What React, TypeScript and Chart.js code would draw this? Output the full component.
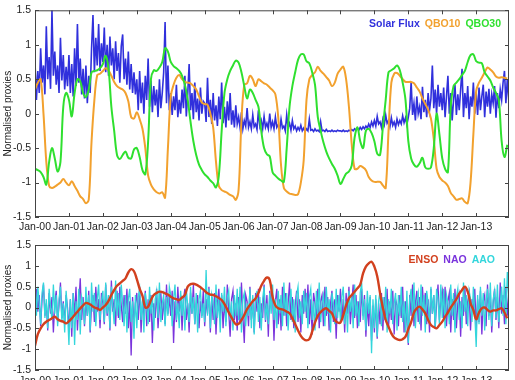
import { useEffect, useRef } from 'react';
import { Chart, registerables } from 'chart.js';

Chart.register(...registerables);

// Axis ticks: months since Jan 2000
const tickMonths = [0, 12, 24, 36, 48, 60, 72, 84, 96, 108, 120, 132, 144, 156];
const tickLabels = ['Jan-00', 'Jan-01', 'Jan-02', 'Jan-03', 'Jan-04', 'Jan-05', 'Jan-06', 'Jan-07', 'Jan-08', 'Jan-09', 'Jan-10', 'Jan-11', 'Jan-12', 'Jan-13'];
const yTicks = [-1.5, -1, -0.5, 0, 0.5, 1, 1.5];

// Solar flux, two samples per month (2000-2013)
const solarFlux = [
  0.75, 0.2, 0.62, 0.3, 0.95, 0.45, 0.7, 0.28, 1.27, 0.5, 0.82, 0.36, 1.5, 0.55, 0.9, 0.42, 0.7, 0.3, 1.1, 0.48, 0.85, 0.35, 0.68, 0.4,
  0.85, 0.3, 0.72, 0.25, 0.95, 0.4, 1.3, 0.45, 0.8, 0.28, 0.65, 0.22, 0.7, 0.15, 0.55, 0.3, 0.95, 1.43, 0.6, 1.1, 0.7, 1.3, 0.62, 1.02,
  0.75, 1.25, 0.6, 1.0, 0.55, 1.12, 0.7, 0.95, 0.5, 1.05, 0.62, 0.88, 0.45, 0.98, 1.15, 0.5, 0.8, 0.42, 0.9, 0.35, 0.72, 0.3, 0.6, 0.28,
  0.5, 0.05, 0.62, 0.15, 0.45, 0.0, 0.55, 0.2, 0.8, 0.1, 0.48, 0.02, 0.4, 0.12, 0.35, -0.05, 0.5, 0.08, 0.3, 0.6, 1.33, 0.15, 0.7, 0.05,
  0.3, -0.02, 0.25, 0.05, 0.42, -0.05, 0.2, 0.0, 0.35, 0.08, 0.55, -0.04, 0.28, 0.72, 0.05, 0.3, -0.08, 0.45, 0.02, 0.22, -0.1, 0.38, 0.0, 0.18,
  0.15, -0.12, 0.52, -0.05, 0.2, -0.15, 0.3, -0.1, 0.12, -0.18, 0.25, -0.08, 0.45, -0.14, 0.1, -0.2, 0.18, -0.1, 0.3, -0.16, 0.05, -0.2, 0.12, -0.15,
  -0.05, -0.2, 0.02, -0.22, -0.1, -0.18, 0.08, -0.2, -0.12, -0.22, -0.02, -0.19, -0.15, -0.23, 0.05, -0.18, -0.1, -0.22, -0.04, -0.2, -0.14, -0.22, 0.0, -0.2,
  -0.12, -0.22, -0.05, -0.2, -0.16, -0.24, -0.08, -0.21, -0.18, -0.25, -0.02, -0.2, -0.14, -0.24, -0.1, -0.22, -0.18, -0.25, -0.2, -0.24, -0.17, -0.25, -0.21, -0.26,
  -0.22, -0.25, -0.08, -0.24, -0.23, -0.26, -0.22, -0.25, -0.24, -0.26, -0.12, -0.25, -0.24, -0.26, -0.23, -0.26, -0.25, -0.26, -0.24, -0.26, -0.25, -0.26, -0.24, -0.25,
  -0.25, -0.26, -0.24, -0.26, -0.25, -0.26, -0.24, -0.25, -0.23, -0.25, -0.22, -0.24, -0.21, -0.24, -0.2, -0.23, -0.19, -0.22, -0.18, -0.21, -0.15, -0.2, -0.12, -0.18,
  -0.1, -0.18, -0.04, -0.15, -0.12, -0.2, -0.08, -0.16, -0.02, -0.14, -0.1, -0.19, -0.06, -0.17, -0.12, -0.2, -0.08, -0.16, -0.1, -0.15, -0.03, -0.13, -0.06, -0.16,
  -0.05, 0.08, 0.46, -0.02, 0.15, -0.1, 0.25, 0.0, 0.1, -0.08, 0.39, 0.02, 0.2, -0.05, 0.3, 0.05, 0.22, 0.7, 0.08, 0.35, 0.0, 0.42, 0.1, 0.3,
  0.05, 0.38, -0.05, 0.25, 0.55, 0.0, 0.3, -0.1, 0.2, 0.42, -0.02, 0.28, 0.05, 0.35, 0.65, -0.05, 0.3, 0.08, 0.4, -0.08, 0.25, 0.1, 0.45, 0.0,
  0.3, -0.02, 0.38, 0.05, 0.25, 0.42, -0.05, 0.32, 0.1, 0.36, 0.0, 0.28, 0.15, 0.4, -0.06, 0.3, 0.08, 0.35, 0.2, 0.45, 0.62, 0.15, 0.5, 0.2,
];

// QBO at 10 hPa, monthly
const qbo10 = [
  0.35, 0.45, 0.5, 0.0, -0.7, -1.05, -1.08, -1.06, -1.03, -1.0, -0.95, -1.0,
  -1.04, -0.98, -1.05, -1.12, -1.2, -1.24, -1.3, -1.25, -0.4, 0.2, 0.56, 0.58,
  0.62, 0.66, 0.63, 0.55, 0.46, 0.4, 0.37, 0.35, 0.3, 0.18, -0.05, -0.07,
  0.02, -0.08, -0.22, -0.5, -0.9, -1.03, -1.1, -1.14, -1.16, -1.14, -1.22, -0.5,
  0.25, 0.42, 0.52, 0.56, 0.5, 0.46, 0.45, 0.44, 0.4, 0.35, 0.25, 0.16,
  0.14, 0.13, 0.0, -0.2, -0.7, -1.05, -1.11, -1.13, -1.15, -1.18, -1.2, -1.25,
  -1.1, -0.1, 0.42, 0.44, 0.55, 0.5, 0.4, 0.5, 0.47, 0.44, 0.42, 0.38,
  0.34, 0.28, -0.05, -0.75, -1.08, -1.13, -1.16, -1.17, -1.18, -1.17, -1.0, -0.68,
  0.2, 0.5, 0.56, 0.6, 0.68, 0.62, 0.58, 0.53, 0.48, 0.4, 0.45, 0.58,
  0.64, 0.68, 0.5, 0.1, -0.45, -0.8, -0.8, -0.76, -0.78, -0.82, -0.92, -0.97,
  -0.99, -0.99, -0.99, -1.04, -1.08, -0.25, 0.45, 0.58, 0.59, 0.55, 0.5, 0.46,
  0.46, 0.46, 0.44, 0.38, 0.32, 0.22, 0.14, 0.06, -0.07, -0.37, -0.8, -0.92,
  -0.97, -1.0, -1.05, -1.15, -1.2, -1.25, -1.24, -1.23, -1.28, -1.3, -1.0, -0.3,
  0.33, 0.45, 0.52, 0.6, 0.67, 0.64, 0.6, 0.54, 0.52, 0.53, 0.52, 0.51,
];

// QBO at 30 hPa, monthly
const qbo30 = [
  -0.8, -0.82, -0.85, -0.92, -1.03, -0.7, -0.5, -0.65, -0.84, -0.7, 0.1, 0.3,
  0.2, -0.04, 0.3, 0.5, 0.47, 0.3, 0.24, 0.35, 0.6, 0.62, 0.63, 0.66,
  0.72, 0.84, 0.65, 0.1, -0.25, -0.6, -0.66, -0.6, -0.55, -0.64, -0.65, -0.52,
  -0.5, -0.63, -0.82, -0.88, -0.4, 0.5, 0.63, 0.62, 0.67, 0.75, 0.95, 0.9,
  0.75, 0.69, 0.66, 0.62, 0.55, 0.42, 0.2, -0.12, -0.4, -0.6, -0.74, -0.82,
  -0.88, -0.92, -0.97, -1.01, -1.07, -0.9, -0.25, 0.3, 0.5, 0.62, 0.7, 0.77,
  0.74, 0.6, 0.4, 0.22, 0.35, 0.3, 0.2, 0.1, -0.25, -0.5, -0.59, -0.62,
  -0.85, -0.9, -0.94, -0.97, -0.99, -0.5, 0.1, 0.4, 0.6, 0.78, 0.86, 0.86,
  0.76, 0.73, 0.6, 0.42, -0.05, -0.25, -0.42, -0.55, -0.65, -0.73, -0.8, -0.9,
  -1.02, -0.95, -0.87, -0.84, -0.75, -0.35, -0.2, -0.4, -0.5, -0.25, -0.22, -0.28,
  -0.4, -0.58, -0.6, -0.2, 0.2, 0.6, 0.63, 0.66, 0.7, 0.63, 0.45, 0.2,
  -0.4, -0.65, -0.74, -0.77, -0.72, -0.64, -0.78, -0.8, -0.78, -0.5, 0.0, -0.3,
  -0.65, -0.8, -0.85, 0.1, 0.4, 0.45, 0.5, 0.56, 0.62, 0.75, 0.85, 0.86,
  0.76, 0.74, 0.73, 0.6, 0.54, 0.48, 0.38, 0.3, 0.2, -0.4, -0.63, -0.45,
];

// ENSO index, monthly
const enso = [
  -0.92, -0.64, -0.5, -0.4, -0.34, -0.3, -0.26, -0.22, -0.28, -0.32, -0.34, -0.38,
  -0.33, -0.26, -0.18, -0.1, -0.02, 0.05, 0.11, 0.09, 0.05, 0.0, -0.02, -0.06,
  0.0, 0.06, 0.16, 0.3, 0.42, 0.52, 0.58, 0.64, 0.7, 0.84, 0.92, 0.87,
  0.68, 0.45, 0.28, 0.0, 0.02, 0.18, 0.3, 0.35, 0.38, 0.37, 0.34, 0.31,
  0.26, 0.22, 0.2, 0.18, 0.24, 0.3, 0.5, 0.56, 0.57, 0.55, 0.51, 0.46,
  0.4, 0.34, 0.31, 0.3, 0.27, 0.23, 0.18, 0.08, -0.05, -0.18, -0.3, -0.4,
  -0.39, -0.3, -0.18, -0.04, 0.06, 0.15, 0.22, 0.35, 0.52, 0.64, 0.72, 0.66,
  0.25, 0.05, -0.02, -0.04, -0.06, -0.1, -0.14, -0.26, -0.4, -0.55, -0.68, -0.76,
  -0.79, -0.76, -0.58, -0.36, -0.2, -0.11, -0.05, -0.02, -0.08, -0.14, -0.3, -0.36,
  -0.36, -0.18, 0.05, 0.22, 0.3, 0.38, 0.46, 0.55, 0.82, 0.98, 1.06, 1.1,
  0.98, 0.75, 0.35, 0.0, -0.3, -0.46, -0.62, -0.72, -0.76, -0.78, -0.76, -0.7,
  -0.52, -0.35, -0.12, -0.02, 0.02, -0.05, -0.14, -0.3, -0.42, -0.47, -0.5, -0.42,
  -0.34, -0.22, -0.12, 0.0, 0.1, 0.2, 0.33, 0.42, 0.5, 0.38, 0.1, -0.06,
  -0.28, -0.12, -0.02, 0.0, -0.06, -0.1, -0.07, -0.07, -0.04, -0.02, -0.12, -0.26,
];

// NAO index, two samples per month
const nao = [
  -0.3, 0.45, -0.1, 0.3, -0.45, 0.2, 0.55, -0.2, 0.1, -0.55, 0.35, -0.15, 0.25, -0.6, 0.1, 0.4, -0.35, 0.05, 0.6, -0.25, 0.15, -0.4, 0.3, 0.0,
  -0.5, 0.2, -0.7, 0.35, -0.2, 0.5, -0.55, 0.1, 0.7, -0.3, 0.25, -0.45, 0.15, -0.2, 0.4, -0.6, 0.05, 0.3, -0.35, 0.5, -0.1, 0.2, -0.5, 0.35,
  0.1, -0.4, 0.55, -0.2, 0.3, -0.55, 0.65, -0.1, 0.2, -0.45, 0.4, -0.25, 0.5, 0.05, -0.35, 0.3, -0.15, 0.45, -0.5, 0.15, -1.15, 0.25, -0.4, 0.1,
  0.35, -0.3, 0.5, -0.6, 0.15, -0.2, 0.4, -0.45, 0.2, -0.35, 0.3, -0.85, 0.1, -0.25, 0.45, -0.5, 0.05, 0.35, -0.3, 0.2, -0.4, 0.55, -0.15, 0.25,
  -0.2, 0.4, -0.85, 0.15, -0.35, 0.5, -0.1, 0.3, -0.55, 0.2, 0.45, -0.3, 0.1, -0.6, 0.35, -0.15, 0.55, -0.4, 0.05, 0.3, -0.5, 0.15, -0.2, 0.4,
  -0.45, 0.2, -0.15, 0.5, -0.6, 0.25, -0.3, 0.35, -0.65, 0.1, 0.45, -0.2, 0.3, -0.5, 0.15, -0.35, 0.55, -0.1, -0.7, 0.2, 0.4, -0.3, 0.1, -0.55,
  0.25, -0.4, 0.6, -0.2, -0.85, 0.3, 0.15, -0.45, 0.5, -0.3, 0.2, -0.6, 0.35, -0.1, 0.45, -0.5, 0.1, -0.25, 0.55, -0.35, 0.3, -0.7, 0.4, 0.05,
  0.3, -0.8, 0.15, 0.45, -0.4, 0.2, -0.55, 0.5, -0.2, 0.35, -0.45, 0.1, 0.6, -0.3, 0.25, -0.5, 0.05, 0.4, -0.35, 0.2, -0.6, 0.3, -0.15, 0.45,
  -0.25, 0.55, -0.4, 0.2, -0.65, 0.35, 0.1, -0.3, 0.45, -0.5, 0.15, 0.3, -0.45, 0.5, -0.2, 0.25, -0.55, 0.1, 0.4, -0.35, 0.2, -0.75, 0.3, -0.1,
  0.45, -0.3, 0.2, -0.6, 0.35, -0.15, 0.5, -0.4, 0.1, 0.55, -0.25, 0.3, -0.5, 0.15, -0.35, 0.45, -0.2, 0.3, -0.7, 0.1, -0.45, 0.25, -0.8, 0.05,
  -0.6, 0.2, -0.75, 0.1, -0.4, 0.35, -0.55, 0.25, -0.2, 0.45, -0.5, 0.15, -0.3, 0.4, -0.65, 0.2, 0.05, -0.45, 0.3, -0.25, 0.5, -0.6, 0.15, -0.35,
  -0.9, 0.3, -0.2, 0.55, -0.45, 0.1, 0.4, -0.35, 0.25, -0.55, 0.5, -0.1, 0.35, -0.4, 0.2, -0.6, 0.45, -0.15, 0.3, -0.5, 0.1, 0.55, -0.3, 0.2,
  0.4, -0.25, 0.5, -0.45, 0.15, 0.35, -0.6, 0.2, -0.3, 0.45, -0.5, 0.1, 0.3, -0.7, 0.25, -0.2, 0.5, -0.4, 0.15, 0.35, -0.55, 0.2, -0.1, 0.45,
  -0.5, 0.2, -0.35, 0.4, -0.65, 0.15, 0.3, -0.45, 0.55, -0.2, 0.35, -0.6, 0.1, 0.45, -0.3, 0.25, -0.5, 0.6, -0.15, 0.3, -0.4, 0.5, -0.2, 0.35,
];

// AAO index, two samples per month
const aao = [
  0.75, -0.2, 0.5, 0.1, -0.4, 0.35, 0.6, -0.25, 0.2, -0.5, 0.45, 0.0, -0.3, 0.55, -0.15, 0.3, -0.45, 0.2, 0.5, -0.35, 0.1, -0.6, 0.4, -0.1,
  -0.9, 0.2, -0.5, 0.35, -0.9, 0.15, -0.3, 0.45, -0.65, 0.25, 0.1, -0.4, 0.5, -0.2, 0.3, -0.55, 0.6, -0.1, 0.35, -0.45, 0.2, 0.55, -0.3, 0.15,
  0.4, -0.35, 0.6, -0.15, 0.3, -0.5, 0.5, 0.05, -0.4, 0.65, -0.2, 0.35, -0.3, 0.55, 0.1, -0.45, 0.3, -0.6, 0.2, 0.45, -0.35, 0.15, -0.75, 0.3,
  -0.5, 0.25, 0.45, -0.3, 0.2, -0.6, 0.35, 0.05, -0.4, 0.5, -0.15, 0.3, -0.55, 0.2, 0.4, -0.25, 0.6, -0.35, 0.1, 0.3, -0.45, 0.25, -0.2, 0.5,
  0.3, -0.45, 0.2, 0.55, -0.3, 0.1, -0.5, 0.4, -0.2, 0.3, -0.55, 0.45, 0.05, -0.35, 0.5, -0.15, 0.25, -0.4, 0.35, -0.6, 0.2, 0.4, -0.25, 0.1,
  -0.35, 0.9, -0.2, 0.45, -0.5, 0.3, 0.1, -0.4, 0.55, -0.25, 0.2, -0.6, 0.35, -0.1, 0.5, -0.45, 0.25, 0.4, -0.3, 0.15, -0.55, 0.3, -0.2, 0.45,
  -0.3, 0.5, -0.6, 0.2, 0.35, -0.45, 0.1, -0.2, 0.45, -0.5, 0.3, -0.65, 0.15, 0.4, -0.35, 0.25, -0.55, 0.2, 0.5, -0.3, 0.1, -0.4, 0.35, -0.15,
  0.55, -0.3, 0.2, -0.5, 0.4, -0.15, 0.3, -0.45, 0.6, -0.2, 0.35, -0.55, 0.1, 0.45, -0.35, 0.2, -0.6, 0.3, 0.5, -0.25, 0.15, -0.4, 0.4, -0.1,
  0.35, -0.5, 0.25, 0.45, -0.3, 0.15, -0.55, 0.4, -0.2, 0.6, -0.35, 0.1, 0.3, -0.45, 0.5, -0.15, 0.2, -0.6, 0.35, 0.1, -0.4, 0.45, -0.25, 0.3,
  -0.35, 0.25, 0.5, -0.4, 0.15, -0.6, 0.4, -0.1, 0.3, -0.5, 0.55, -0.2, 0.15, -0.45, 0.35, 0.6, -0.3, 0.2, -0.55, 0.4, -0.15, 0.3, -1.1, 0.2,
  -0.5, 0.3, -0.7, 0.15, 0.4, -0.45, 0.25, -0.3, 0.5, -0.6, 0.2, -0.15, 0.45, -0.4, 0.1, 0.35, -0.55, 0.3, -0.2, 0.5, -0.35, 0.15, -0.6, 0.4,
  -0.85, 0.2, 0.45, -0.3, 0.6, -0.5, 0.15, 0.35, -0.4, 0.55, -0.2, 0.3, -0.6, 0.4, 0.1, -0.35, 0.5, -0.15, 0.3, -0.5, 0.45, 0.2, -0.4, 0.55,
  -0.25, 0.45, -0.5, 0.3, 0.1, -0.4, 0.55, -0.2, 0.35, -0.6, 0.25, 0.45, -0.3, 0.15, -0.5, 0.6, -0.1, 0.3, -0.45, 0.4, 0.2, -0.35, 0.5, -0.15,
  -0.95, 0.3, -0.4, 0.5, -0.2, 0.35, -0.55, 0.15, 0.45, -0.3, 0.6, -0.45, 0.2, 0.4, -0.25, 0.55, -0.35, 0.1, 0.5, -0.2, 0.7, -0.4, 0.85, 0.3,
];

const FONT = "'Liberation Sans', Arial, sans-serif";
const TEXT = '#222';
const FRAME = '#444';

const monthly = (vals: number[]) => vals.map((y, i) => ({ x: i, y }));
const halfMonthly = (vals: number[]) => vals.map((y, i) => ({ x: i / 2, y }));

type LegendItem = { text: string; color: string };

// Draws the boxed frame with inward ticks and the coloured text legend
const framePlugin = {
  id: 'boxFrame',
  afterDatasetsDraw(chart: any, _args: any, opts: any) {
    const { ctx, chartArea: a, scales } = chart;
    ctx.save();
    ctx.strokeStyle = FRAME;
    ctx.lineWidth = 1;
    ctx.strokeRect(a.left + 0.5, a.top + 0.5, a.right - a.left - 1, a.bottom - a.top - 1);
    const L = 4;
    ctx.beginPath();
    for (const m of tickMonths) {
      const x = Math.round(scales.x.getPixelForValue(m)) + 0.5;
      ctx.moveTo(x, a.bottom);
      ctx.lineTo(x, a.bottom - L);
      ctx.moveTo(x, a.top);
      ctx.lineTo(x, a.top + L);
    }
    for (const v of yTicks) {
      const y = Math.round(scales.y.getPixelForValue(v)) + 0.5;
      ctx.moveTo(a.left, y);
      ctx.lineTo(a.left + L, y);
      ctx.moveTo(a.right, y);
      ctx.lineTo(a.right - L, y);
    }
    ctx.stroke();

    const items: LegendItem[] = opts.items || [];
    ctx.font = `bold 10.5px ${FONT}`;
    ctx.textBaseline = 'middle';
    ctx.textAlign = 'left';
    const gap = 5;
    let total = 0;
    items.forEach((it, i) => {
      total += ctx.measureText(it.text).width + (i > 0 ? gap : 0);
    });
    let x = a.right - opts.right - total;
    const y = a.top + opts.top;
    for (const it of items) {
      ctx.fillStyle = it.color;
      ctx.fillText(it.text, x, y);
      x += ctx.measureText(it.text).width + gap;
    }
    ctx.restore();
  },
};

function makeOptions(padTop: number, xAxisHeight: number, labelPad: number, legend: any) {
  return {
    responsive: false,
    animation: false as const,
    events: [],
    layout: { padding: { top: padTop, right: 6, left: 0, bottom: 0 } },
    elements: { point: { radius: 0 } },
    plugins: {
      legend: { display: false },
      tooltip: { enabled: false },
      boxFrame: legend,
    },
    scales: {
      x: {
        type: 'linear' as const,
        min: 0,
        max: 167.6,
        grid: { display: false, drawTicks: false },
        border: { display: false },
        afterBuildTicks: (s: any) => {
          s.ticks = tickMonths.map((v) => ({ value: v }));
        },
        afterFit: (s: any) => {
          s.height = xAxisHeight;
        },
        ticks: {
          autoSkip: false,
          maxRotation: 0,
          padding: labelPad,
          color: TEXT,
          font: { family: FONT, size: 10.5 },
          callback: (v: any) => tickLabels[tickMonths.indexOf(Number(v))] ?? '',
        },
      },
      y: {
        min: -1.5,
        max: 1.5,
        grid: { display: false, drawTicks: false },
        border: { display: false },
        afterBuildTicks: (s: any) => {
          s.ticks = yTicks.map((v) => ({ value: v }));
        },
        afterFit: (s: any) => {
          s.width = 35;
        },
        ticks: {
          padding: 4,
          color: TEXT,
          font: { family: FONT, size: 10.5 },
          callback: (v: any) => String(v),
        },
        title: {
          display: true,
          text: 'Normalised proxies',
          color: TEXT,
          font: { family: FONT, size: 10 },
          padding: { top: 2, bottom: 0 },
        },
      },
    },
  };
}

export default function App() {
  const topRef = useRef<HTMLCanvasElement>(null);
  const bottomRef = useRef<HTMLCanvasElement>(null);

  useEffect(() => {
    const top = new Chart(topRef.current as HTMLCanvasElement, {
      type: 'line',
      data: {
        datasets: [
          { label: 'QBO30', data: monthly(qbo30), borderColor: '#2fe02f', borderWidth: 2, tension: 0.35 },
          { label: 'QBO10', data: monthly(qbo10), borderColor: '#f2a12e', borderWidth: 2, tension: 0.35 },
          { label: 'Solar Flux', data: halfMonthly(solarFlux), borderColor: '#3030dc', borderWidth: 1.6, tension: 0 },
        ],
      },
      options: makeOptions(7, 15, 3.5, {
        top: 14,
        right: 8,
        items: [
          { text: 'Solar Flux', color: '#3030dc' },
          { text: 'QBO10', color: '#f2a12e' },
          { text: 'QBO30', color: '#2fe02f' },
        ],
      }) as any,
      plugins: [framePlugin],
    });

    const bottom = new Chart(bottomRef.current as HTMLCanvasElement, {
      type: 'line',
      data: {
        datasets: [
          { label: 'ENSO', data: monthly(enso), borderColor: '#d2401e', borderWidth: 2.4, tension: 0.4 },
          { label: 'AAO', data: halfMonthly(aao), borderColor: '#33d6dc', borderWidth: 1.3, tension: 0 },
          { label: 'NAO', data: halfMonthly(nao), borderColor: '#7a34dc', borderWidth: 1.3, tension: 0 },
        ],
      },
      options: makeOptions(13, 30, 4.5, {
        top: 15,
        right: 14,
        items: [
          { text: 'ENSO', color: '#d2401e' },
          { text: 'NAO', color: '#7a34dc' },
          { text: 'AAO', color: '#33d6dc' },
        ],
      }) as any,
      plugins: [framePlugin],
    });

    return () => {
      top.destroy();
      bottom.destroy();
    };
  }, []);

  return (
    <div style={{ position: 'absolute', left: 0, top: 0, width: 515, height: 380, overflow: 'hidden', background: '#fff' }}>
      <canvas ref={topRef} width={515} height={232} style={{ position: 'absolute', left: 0, top: 0 }} />
      <canvas ref={bottomRef} width={515} height={168} style={{ position: 'absolute', left: 0, top: 232 }} />
    </div>
  );
}
